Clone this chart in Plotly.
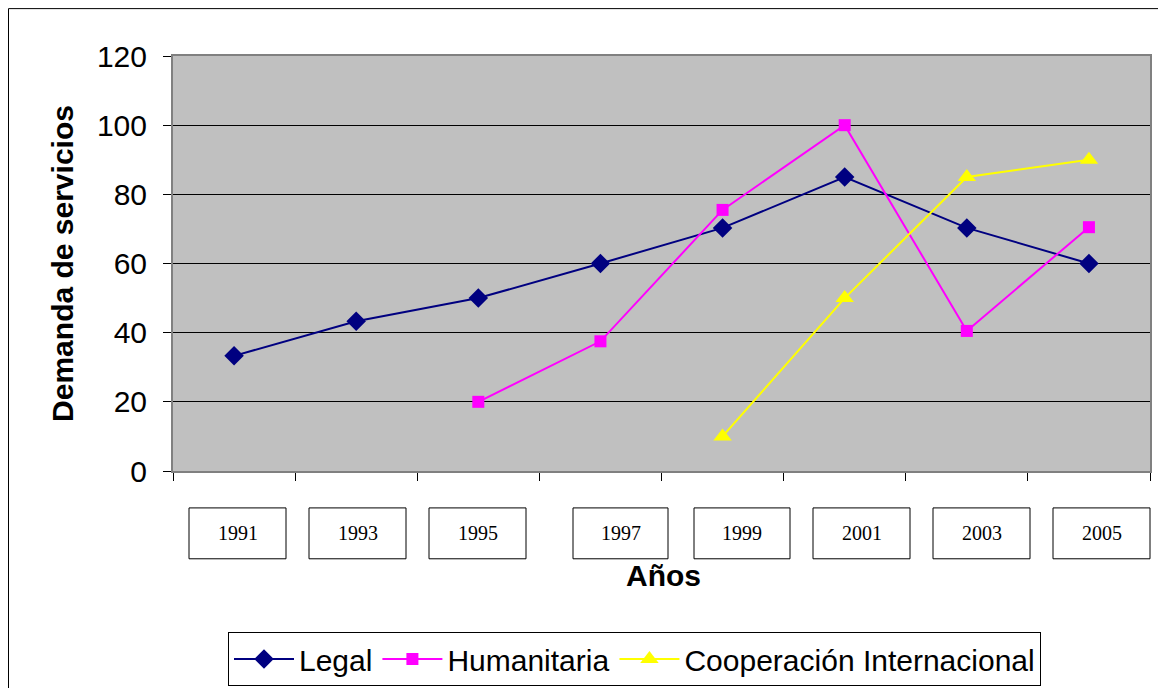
import plotly.graph_objects as go

categories = [1, 2, 3, 4, 5, 6, 7, 8]
years = ["1991", "1993", "1995", "1997", "1999", "2001", "2003", "2005"]
legal = [33.3, 43.3, 50, 60, 70.3, 85, 70.3, 60]
humanitaria = [None, None, 20, 37.5, 75.5, 100, 40.5, 70.5]
cooperacion = [None, None, None, None, 10, 50, 85, 90]
y_ticks = [0, 20, 40, 60, 80, 100, 120]

# page has an 8px body margin; convert screenshot pixels to figure pixels
OFF = 8
L, R, T, B = 173 - OFF, 1150 - OFF, 56 - OFF, 472 - OFF
W, H = R - L, B - T
FW, FH = 1166, 688

def px(xp):
    return (xp - OFF - L) / W

def py(yp):
    return (B - (yp - OFF)) / H

fig = go.Figure()
fig.add_trace(go.Scatter(x=categories, y=legal, name="Legal", mode="lines+markers",
                         line=dict(color="#000080", width=2),
                         marker=dict(symbol="diamond", size=15, color="#000080")))
fig.add_trace(go.Scatter(x=categories, y=humanitaria, name="Humanitaria", mode="lines+markers",
                         line=dict(color="#FF00FF", width=2),
                         marker=dict(symbol="square", size=12, color="#FF00FF")))
fig.add_trace(go.Scatter(x=categories, y=cooperacion, name="Cooperación Internacional",
                         mode="lines+markers",
                         line=dict(color="#FFFF00", width=2),
                         marker=dict(symbol="triangle-up", size=16, color="#FFFF00")))

# year boxes (cover the category numbers)
box_px = [(189, 286), (309, 406), (429, 526), (573, 668), (694, 790), (813, 910), (933, 1030), (1053, 1150)]
annotations = []
shapes = []
for (a, b), yr in zip(box_px, years):
    shapes.append(dict(type="rect", xref="paper", yref="paper",
                       x0=px(a), x1=px(b), y0=py(560), y1=py(509),
                       line=dict(color="black", width=1), fillcolor="white", layer="above"))
    annotations.append(dict(text=yr, xref="paper", yref="paper", x=px((a + b) / 2), y=py(534),
                            showarrow=False, xanchor="center", yanchor="middle",
                            font=dict(family="Liberation Serif", size=20, color="black")))

annotations.append(dict(text="<b>Años</b>", xref="paper", yref="paper", x=px(663), y=py(577),
                        showarrow=False, xanchor="center", yanchor="middle",
                        font=dict(family="Liberation Sans", size=30, color="black")))

# outer chart border (figure edge)
shapes.append(dict(type="rect", xref="paper", yref="paper",
                   x0=px(OFF + 0.5), x1=px(1250), y0=py(800), y1=py(OFF + 0.5),
                   line=dict(color="black", width=1), fillcolor="rgba(0,0,0,0)", layer="below"))

fig.update_layout(
    width=FW, height=FH,
    margin=dict(l=L, r=FW - R, t=T, b=FH - B),
    paper_bgcolor="white", plot_bgcolor="#C0C0C0",
    font=dict(family="Liberation Sans", color="black"),
    showlegend=True,
    legend=dict(orientation="h", x=px(228), y=py(632), xanchor="left", yanchor="top",
                bordercolor="black", borderwidth=1, bgcolor="white",
                font=dict(family="Liberation Sans", size=30, color="black"),
                itemwidth=60, tracegroupgap=0),
    xaxis=dict(range=[0.5, 8.5], tickvals=[c - 0.5 for c in categories] + [8.5],
               ticktext=[""] * 9, ticks="outside", ticklen=8, tickcolor="black", tickwidth=1,
               showgrid=False, zeroline=False, showline=True, linecolor="#808080", linewidth=2,
               mirror=True),
    yaxis=dict(range=[0, 120], tickvals=y_ticks, ticks="outside", ticklen=8, tickcolor="black",
               tickwidth=1, showgrid=True, gridcolor="black", gridwidth=1, zeroline=False,
               showline=True, linecolor="#808080", linewidth=2, mirror=True,
               tickfont=dict(family="Liberation Sans", size=30, color="black"),
               ticklabelstandoff=10,
               title=dict(text="<b>Demanda de servicios</b>", standoff=14,
                          font=dict(family="Liberation Sans", size=30, color="black"))),
    shapes=shapes, annotations=annotations,
)

fig.write_html("out.html")
